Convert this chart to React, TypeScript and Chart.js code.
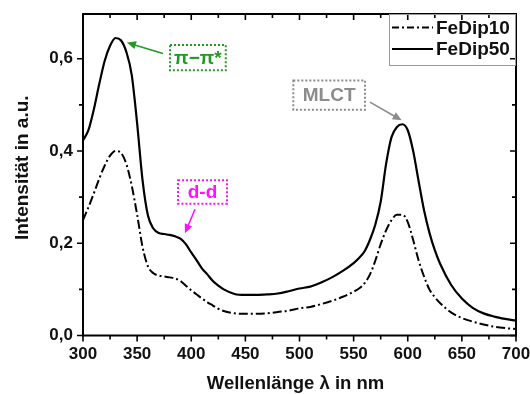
import React, { useEffect, useRef } from 'react';
import { Chart, registerables } from 'chart.js';

Chart.register(...registerables);

// ---------- data ----------
const wavelengths = [
  300, 305, 310, 315, 320, 325, 330, 335, 340, 345, 350, 355, 360, 365, 370, 375, 380, 385, 390, 395,
  400, 405, 410, 415, 420, 425, 430, 440, 450, 460, 470, 480, 490, 500, 510, 520, 530, 540, 550, 555,
  560, 565, 570, 575, 580, 585, 590, 595, 600, 605, 610, 615, 620, 625, 630, 640, 650, 660, 670, 680,
  690, 700,
];

const fedip10 = [
  0.25, 0.278, 0.308, 0.34, 0.368, 0.39, 0.4, 0.396, 0.372, 0.325, 0.262, 0.192, 0.15, 0.135, 0.13, 0.128, 0.126, 0.124, 0.118, 0.108,
  0.098, 0.089, 0.08, 0.072, 0.065, 0.058, 0.053, 0.048, 0.047, 0.047, 0.048, 0.051, 0.054, 0.059, 0.062, 0.068, 0.075, 0.084, 0.095, 0.102,
  0.113, 0.132, 0.162, 0.198, 0.228, 0.25, 0.262, 0.262, 0.246, 0.207, 0.163, 0.128, 0.1, 0.083, 0.07, 0.05, 0.038, 0.03, 0.024, 0.019,
  0.016, 0.014,
];

const fedip50 = [
  0.423, 0.445, 0.49, 0.545, 0.595, 0.628, 0.645, 0.64, 0.615, 0.565, 0.46, 0.337, 0.26, 0.232, 0.222, 0.22, 0.218, 0.215, 0.21, 0.198,
  0.18, 0.163, 0.145, 0.132, 0.118, 0.108, 0.1, 0.09, 0.088, 0.088, 0.089, 0.091, 0.096, 0.102, 0.106, 0.115, 0.126, 0.14, 0.157, 0.168,
  0.182, 0.207, 0.24, 0.29, 0.372, 0.43, 0.452, 0.458, 0.445, 0.4, 0.335, 0.272, 0.223, 0.185, 0.155, 0.11, 0.08, 0.06, 0.048, 0.041,
  0.036, 0.032,
];

const seriesNames = ['FeDip10', 'FeDip50'];

const xMajorTicks = [300, 350, 400, 450, 500, 550, 600, 650, 700];
const xMinorTicks = [325, 375, 425, 475, 525, 575, 625, 675];
const yMajorTicks = [0, 0.2, 0.4, 0.6];
const yMinorTicks = [0.1, 0.3, 0.5];

const xTitle = 'Wellenlänge λ in nm';
const yTitle = 'Intensität in a.u.';

// annotation labels, anchored in data units (nm, intensity)
const annotationTexts = ['π−π*', 'd-d', 'MLCT'];
const annotationColors = ['#239a23', '#ff10ff', '#8c8c8c'];
const annotationBoxes = [
  [380.4, 0.63, 431.9, 0.575],
  [387.8, 0.3366, 433.0, 0.2857],
  [494.3, 0.553, 560.5, 0.4896],
];
const annotationArrows = [
  [373.9, 0.6115, 340.6, 0.635],
  [403.5, 0.2738, 394.2, 0.2219],
  [565.1, 0.506, 594.4, 0.4665],
];

const FONT = "'Liberation Sans', Arial, Helvetica, sans-serif";

const decorPlugin = {
  id: 'decor',
  afterDraw(chart: any) {
    const { ctx, chartArea: a, scales } = chart;
    const xs = scales.x;
    const ys = scales.y;
    ctx.save();

    // frame
    ctx.strokeStyle = '#000';
    ctx.lineWidth = 2;
    ctx.setLineDash([]);
    ctx.strokeRect(a.left, a.top, a.right - a.left, a.bottom - a.top);

    // ticks
    ctx.lineWidth = 1.6;
    const xTick = (v: number, len: number) => {
      const p = xs.getPixelForValue(v);
      ctx.beginPath();
      ctx.moveTo(p, a.bottom);
      ctx.lineTo(p, a.bottom + len);
      ctx.moveTo(p, a.top);
      ctx.lineTo(p, a.top + len);
      ctx.stroke();
    };
    const yTick = (v: number, len: number) => {
      const p = ys.getPixelForValue(v);
      ctx.beginPath();
      ctx.moveTo(a.left, p);
      ctx.lineTo(a.left - len, p);
      ctx.moveTo(a.right, p);
      ctx.lineTo(a.right - len, p);
      ctx.stroke();
    };
    xMajorTicks.forEach((v) => xTick(v, 6));
    xMinorTicks.forEach((v) => xTick(v, 4));
    yMajorTicks.forEach((v) => yTick(v, 6));
    yMinorTicks.forEach((v) => yTick(v, 4));

    // axis titles
    ctx.fillStyle = '#111';
    ctx.font = `bold 18.5px ${FONT}`;
    ctx.textAlign = 'center';
    ctx.textBaseline = 'alphabetic';
    ctx.fillText(xTitle, (a.left + a.right) / 2 - 4, chart.height - 5);
    ctx.save();
    ctx.translate(28, (a.top + a.bottom) / 2 - 7);
    ctx.rotate(-Math.PI / 2);
    ctx.font = `bold 19px ${FONT}`;
    ctx.fillText(yTitle, 0, 0);
    ctx.restore();

    // legend
    const lw = 127;
    const lh = 51;
    const lx = a.right - lw;
    const ly = a.top;
    ctx.strokeStyle = '#9a9a9a';
    ctx.lineWidth = 1;
    ctx.strokeRect(lx + 0.5, ly + 0.5, lw - 1, lh);
    const rows = [ly + 13.5, ly + 35];
    const dashes = [[7, 3, 2, 3], []];
    seriesNames.forEach((name, i) => {
      ctx.strokeStyle = '#000';
      ctx.lineWidth = 2;
      ctx.setLineDash(dashes[i]);
      ctx.beginPath();
      ctx.moveTo(lx + 3, rows[i]);
      ctx.lineTo(lx + 44, rows[i]);
      ctx.stroke();
      ctx.setLineDash([]);
      ctx.fillStyle = '#111';
      ctx.font = `bold 19px ${FONT}`;
      ctx.textAlign = 'left';
      ctx.textBaseline = 'middle';
      ctx.fillText(name, lx + 47, rows[i] + 1);
    });

    // annotations
    annotationTexts.forEach((txt, i) => {
      const col = annotationColors[i];
      const [bx1, by1, bx2, by2] = annotationBoxes[i];
      const x1 = xs.getPixelForValue(bx1);
      const x2 = xs.getPixelForValue(bx2);
      const y1 = ys.getPixelForValue(by1);
      const y2 = ys.getPixelForValue(by2);
      ctx.strokeStyle = col;
      ctx.lineWidth = 2;
      ctx.setLineDash([2, 2]);
      ctx.strokeRect(x1, y1, x2 - x1, y2 - y1);
      ctx.setLineDash([]);
      ctx.fillStyle = col;
      ctx.font = `bold 19px ${FONT}`;
      ctx.textAlign = 'center';
      ctx.textBaseline = 'middle';
      ctx.fillText(txt, (x1 + x2) / 2, (y1 + y2) / 2 + 1);

      const [ax1, ay1, ax2, ay2] = annotationArrows[i];
      const sx = xs.getPixelForValue(ax1);
      const sy = ys.getPixelForValue(ay1);
      const ex = xs.getPixelForValue(ax2);
      const ey = ys.getPixelForValue(ay2);
      const ang = Math.atan2(ey - sy, ex - sx);
      const hl = 9;
      const hw = 4;
      ctx.strokeStyle = col;
      ctx.lineWidth = 1.6;
      ctx.beginPath();
      ctx.moveTo(sx, sy);
      ctx.lineTo(ex - Math.cos(ang) * hl * 0.8, ey - Math.sin(ang) * hl * 0.8);
      ctx.stroke();
      ctx.beginPath();
      ctx.moveTo(ex, ey);
      ctx.lineTo(ex - Math.cos(ang) * hl - Math.sin(ang) * hw, ey - Math.sin(ang) * hl + Math.cos(ang) * hw);
      ctx.lineTo(ex - Math.cos(ang) * hl + Math.sin(ang) * hw, ey - Math.sin(ang) * hl - Math.cos(ang) * hw);
      ctx.closePath();
      ctx.fill();
    });

    ctx.restore();
  },
};

const zeroPad = (s: any) => {
  s.paddingTop = 0;
  s.paddingBottom = 0;
  s.paddingLeft = 0;
  s.paddingRight = 0;
};

export default function App() {
  const canvasRef = useRef<HTMLCanvasElement | null>(null);

  useEffect(() => {
    document.body.style.margin = '0';
    const canvas = canvasRef.current;
    if (!canvas) return;

    const fmt = (v: number) => v.toFixed(1).replace('.', ',');

    const chart = new Chart(canvas, {
      type: 'line',
      data: {
        datasets: [
          {
            label: seriesNames[0],
            data: wavelengths.map((w, i) => ({ x: w, y: fedip10[i] })),
            borderColor: '#000',
            borderWidth: 2,
            borderDash: [9, 3, 2, 3],
            pointRadius: 0,
            cubicInterpolationMode: 'monotone',
            fill: false,
          },
          {
            label: seriesNames[1],
            data: wavelengths.map((w, i) => ({ x: w, y: fedip50[i] })),
            borderColor: '#000',
            borderWidth: 2.2,
            pointRadius: 0,
            cubicInterpolationMode: 'monotone',
            fill: false,
          },
        ],
      },
      options: {
        responsive: false,
        animation: false,
        layout: { padding: { left: 0, right: 14, top: 14, bottom: 0 } },
        plugins: {
          legend: { display: false },
          tooltip: { enabled: false },
        },
        scales: {
          x: {
            type: 'linear',
            min: 300,
            max: 700,
            grid: { display: false, drawTicks: false },
            border: { display: false },
            ticks: {
              autoSkip: false,
              maxRotation: 0,
              padding: 9,
              color: '#111',
              font: { family: FONT, size: 17, weight: 'bold' },
              callback: (v: any) => String(v),
            },
            afterBuildTicks: (s: any) => {
              s.ticks = xMajorTicks.map((v) => ({ value: v }));
            },
            afterFit: (s: any) => {
              s.height = 58.5;
              zeroPad(s);
            },
          },
          y: {
            type: 'linear',
            min: 0,
            max: 0.697,
            grid: { display: false, drawTicks: false },
            border: { display: false },
            ticks: {
              padding: 10,
              color: '#111',
              font: { family: FONT, size: 17, weight: 'bold' },
              callback: (v: any) => fmt(Number(v)),
            },
            afterBuildTicks: (s: any) => {
              s.ticks = yMajorTicks.map((v) => ({ value: v }));
            },
            afterFit: (s: any) => {
              s.width = 83;
              zeroPad(s);
            },
          },
        },
      } as any,
      plugins: [decorPlugin],
    });

    return () => chart.destroy();
  }, []);

  return (
    <div style={{ width: 530, height: 394, background: '#fff' }}>
      <canvas ref={canvasRef} width={530} height={394} style={{ display: 'block' }} />
    </div>
  );
}
